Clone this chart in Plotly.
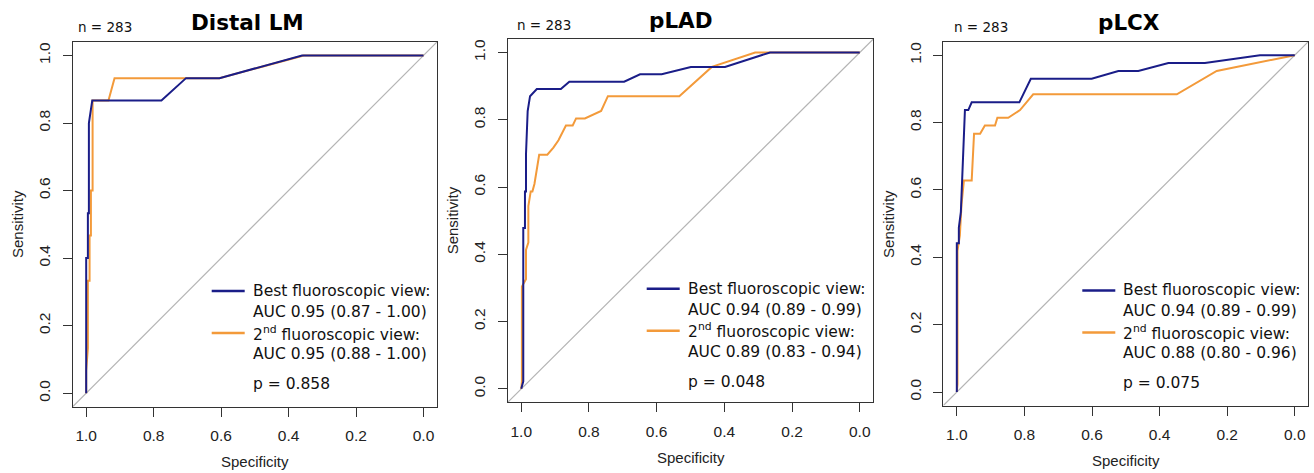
import plotly.graph_objects as go

# ---------------- data ----------------
titles = ["Distal LM", "pLAD", "pLCX"]
n_labels = ["n = 283", "n = 283", "n = 283"]
best_auc = ["AUC 0.95 (0.87 - 1.00)", "AUC 0.94 (0.89 - 0.99)", "AUC 0.94 (0.89 - 0.99)"]
second_auc = ["AUC 0.95 (0.88 - 1.00)", "AUC 0.89 (0.83 - 0.94)", "AUC 0.88 (0.80 - 0.96)"]
p_values = ["p = 0.858", "p = 0.048", "p = 0.075"]
tick_vals = [0.0, 0.2, 0.4, 0.6, 0.8, 1.0]
tick_text = ["0.0", "0.2", "0.4", "0.6", "0.8", "1.0"]

lm_best_spec = [1.0, 1.0, 1.0, 0.995, 0.995, 0.992, 0.992, 0.982, 0.777, 0.704, 0.605, 0.36, 0.0]
lm_best_sens = [0.0, 0.067, 0.4, 0.4, 0.533, 0.533, 0.8, 0.867, 0.867, 0.933, 0.933, 1.0, 1.0]
lm_2nd_spec = [1.0, 1.0, 0.995, 0.995, 0.99, 0.99, 0.986, 0.986, 0.981, 0.981, 0.934, 0.916, 0.605, 0.355, 0.0]
lm_2nd_sens = [0.0, 0.067, 0.133, 0.333, 0.333, 0.467, 0.467, 0.6, 0.6, 0.867, 0.867, 0.933, 0.933, 1.0, 1.0]

lad_best_spec = [1.0, 0.996, 0.994, 0.994, 0.989, 0.989, 0.986, 0.986, 0.981, 0.974, 0.954, 0.883, 0.858, 0.696, 0.649, 0.585, 0.499, 0.398, 0.265, 0.0]
lad_best_sens = [0.0, 0.022, 0.022, 0.478, 0.478, 0.587, 0.587, 0.696, 0.826, 0.87, 0.891, 0.891, 0.913, 0.913, 0.935, 0.935, 0.957, 0.957, 1.0, 1.0]
lad_2nd_spec = [1.0, 0.998, 0.998, 0.986, 0.986, 0.979, 0.979, 0.972, 0.967, 0.961, 0.947, 0.923, 0.905, 0.89, 0.868, 0.848, 0.838, 0.812, 0.764, 0.744, 0.533, 0.437, 0.309, 0.0]
lad_2nd_sens = [0.0, 0.022, 0.304, 0.326, 0.413, 0.435, 0.543, 0.587, 0.587, 0.609, 0.696, 0.696, 0.717, 0.739, 0.783, 0.783, 0.804, 0.804, 0.826, 0.87, 0.87, 0.957, 1.0, 1.0]

lcx_best_spec = [1.0, 1.0, 0.994, 0.994, 0.988, 0.986, 0.983, 0.979, 0.976, 0.966, 0.956, 0.815, 0.781, 0.601, 0.522, 0.463, 0.374, 0.266, 0.103, 0.0]
lcx_best_sens = [0.0, 0.442, 0.442, 0.488, 0.535, 0.581, 0.651, 0.791, 0.837, 0.837, 0.860, 0.860, 0.930, 0.930, 0.953, 0.953, 0.977, 0.977, 1.0, 1.0]
lcx_2nd_spec = [1.0, 0.998, 0.998, 0.991, 0.986, 0.983, 0.979, 0.956, 0.949, 0.931, 0.917, 0.887, 0.88, 0.848, 0.813, 0.774, 0.349, 0.231, 0.0]
lcx_2nd_sens = [0.0, 0.023, 0.419, 0.465, 0.558, 0.581, 0.628, 0.628, 0.767, 0.767, 0.791, 0.791, 0.814, 0.814, 0.837, 0.884, 0.884, 0.953, 1.0]

diag_spec = [1.04, -0.04]
diag_sens = [-0.04, 1.04]

best_curves = [(lm_best_spec, lm_best_sens), (lad_best_spec, lad_best_sens), (lcx_best_spec, lcx_best_sens)]
second_curves = [(lm_2nd_spec, lm_2nd_sens), (lad_2nd_spec, lad_2nd_sens), (lcx_2nd_spec, lcx_2nd_sens)]

# ---------------- layout geometry (pixels) ----------------
W, H = 1314, 473
boxes = [  # left, right, top, bottom
    (72.7, 437.0, 42.0, 406.7),
    (507.7, 873.3, 39.0, 402.3),
    (943.3, 1308.3, 41.7, 405.5),
]
title_x = [247, 681, 1129]
title_y = [23, 20, 22.5]
n_x = [76, 515, 951.7]
n_y = [27, 25, 27]

BLUE = "#1A1D88"
ORANGE = "#F39A3A"
TXT_FONT = "DejaVu Sans"
AX_FONT = "Liberation Sans"


def px(x):
    return x / W


def py(y):
    return 1 - y / H


fig = go.Figure()
annotations = []
shapes = []

for i in range(3):
    ax = "" if i == 0 else str(i + 1)
    xref, yref = "x" + ax, "y" + ax
    l, r, t, b = boxes[i]
    fig.add_trace(go.Scatter(x=diag_spec, y=diag_sens, mode="lines",
                             line=dict(color="#B4B4B4", width=1.2),
                             xaxis=xref, yaxis=yref, showlegend=False, hoverinfo="skip"))
    fig.add_trace(go.Scatter(x=second_curves[i][0], y=second_curves[i][1], mode="lines",
                             line=dict(color=ORANGE, width=2),
                             xaxis=xref, yaxis=yref, showlegend=False))
    fig.add_trace(go.Scatter(x=best_curves[i][0], y=best_curves[i][1], mode="lines",
                             line=dict(color=BLUE, width=2),
                             xaxis=xref, yaxis=yref, showlegend=False))

    axis_common = dict(showline=True, mirror=True, linecolor="#333333", linewidth=1.3,
                       ticks="outside", ticklen=9, tickwidth=1.3, tickcolor="#333333",
                       tickvals=tick_vals, ticktext=tick_text, showgrid=False, zeroline=False,
                       tickfont=dict(family=AX_FONT, size=15.5, color="#222222"))
    fig.update_layout({
        "xaxis" + ax: dict(axis_common, domain=[px(l), px(r)], range=[1.04, -0.04],
                           anchor=yref, ticklabelstandoff=6),
        "yaxis" + ax: dict(axis_common, domain=[py(b), py(t)], range=[-0.04, 1.04],
                           anchor=xref, tickangle=-90, ticklabelstandoff=6),
    })

    # titles and labels
    annotations.append(dict(x=px(title_x[i]), y=py(title_y[i]), xref="paper", yref="paper",
                            text="<b>" + titles[i] + "</b>", showarrow=False,
                            xanchor="center", yanchor="middle",
                            font=dict(family=TXT_FONT, size=21.5, color="#000000")))
    annotations.append(dict(x=px(n_x[i]), y=py(n_y[i]), xref="paper", yref="paper",
                            text=n_labels[i], showarrow=False, xanchor="left", yanchor="middle",
                            font=dict(family=TXT_FONT, size=13.5, color="#111111")))
    annotations.append(dict(x=px((l + r) / 2), y=py(b + 55), xref="paper", yref="paper",
                            text="Specificity", showarrow=False, xanchor="center", yanchor="middle",
                            font=dict(family=AX_FONT, size=15, color="#222222")))
    annotations.append(dict(x=px(l - 55), y=py((t + b) / 2), xref="paper", yref="paper",
                            text="Sensitivity", showarrow=False, xanchor="center", yanchor="middle",
                            textangle=-90,
                            font=dict(family=AX_FONT, size=15, color="#222222")))

    # legend block
    leg_lines = [("Best fluoroscopic view:", 291),
                 (best_auc[i], 312),
                 ("2<sup>nd</sup> fluoroscopic view:", 333),
                 (second_auc[i], 354),
                 (p_values[i], 384)]
    for txt, yy in leg_lines:
        annotations.append(dict(x=px(l + 178), y=py(yy - (406.7 - b) * 0.5), xref="paper", yref="paper",
                                text=txt, showarrow=False, xanchor="left", yanchor="middle",
                                font=dict(family=TXT_FONT, size=15.5, color="#111111")))
    for col, yy in [(BLUE, 291), (ORANGE, 333)]:
        yy2 = yy - (406.7 - b) * 0.5
        shapes.append(dict(type="line", xref="paper", yref="paper",
                           x0=px(l + 139), x1=px(l + 172), y0=py(yy2), y1=py(yy2),
                           line=dict(color=col, width=2.5)))

fig.update_layout(width=W, height=H, margin=dict(l=0, r=0, t=0, b=0),
                  paper_bgcolor="white", plot_bgcolor="white",
                  annotations=annotations, shapes=shapes, showlegend=False)

fig.write_html("out.html", config={"displayModeBar": False},
               post_script="document.body.style.margin='0';document.body.style.padding='0';")
